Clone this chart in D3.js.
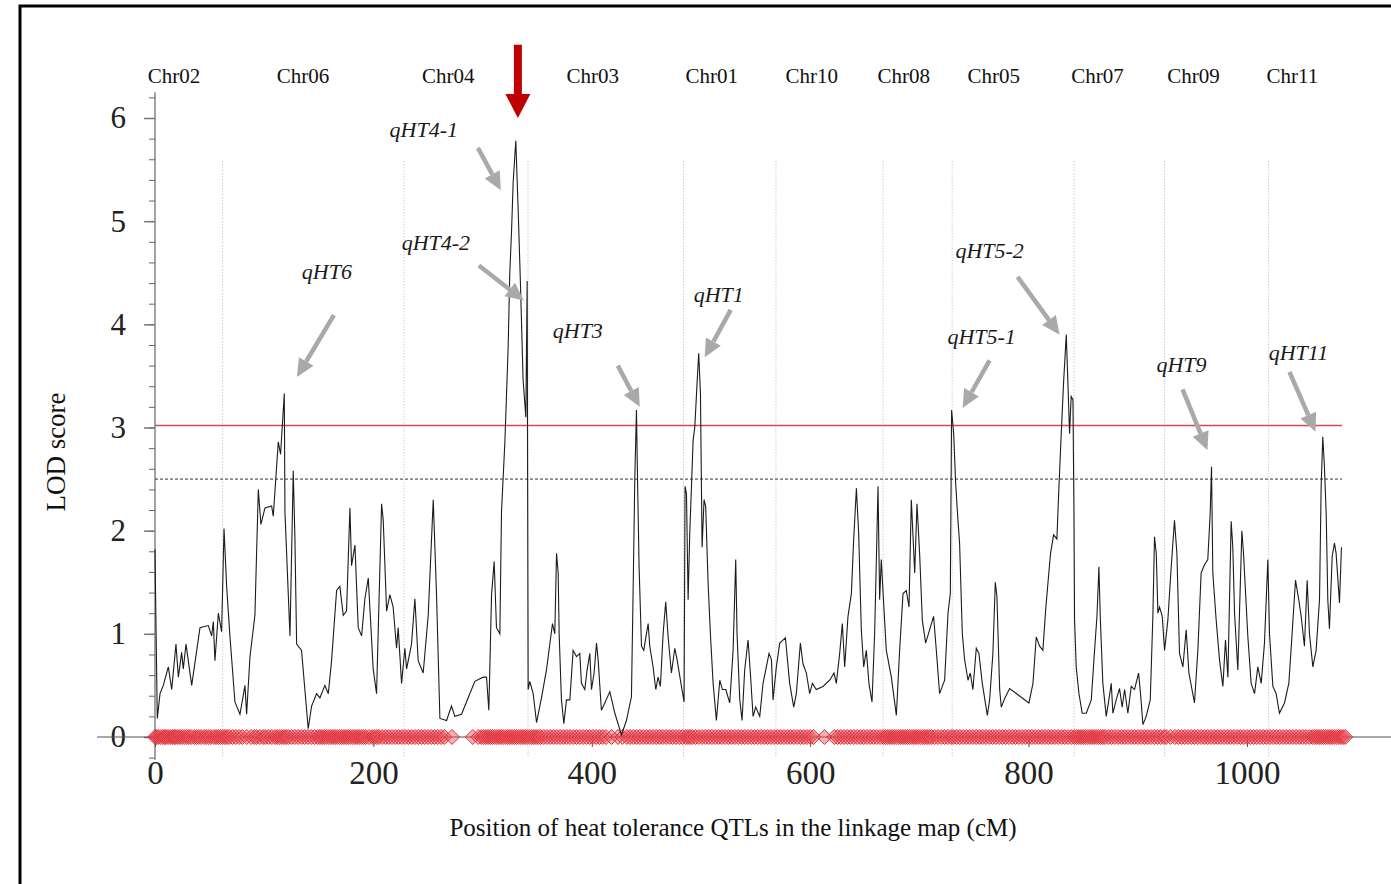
<!DOCTYPE html>
<html>
<head>
<meta charset="utf-8">
<script src="https://cdn.jsdelivr.net/npm/d3@7"></script>
<style>
  body { margin: 0; background: #fff; }
  svg { display: block; font-family: "Liberation Serif", "Times New Roman", serif; }
</style>
</head>
<body>
<div class="chart"></div>
<script>
// LOD profile along the concatenated linkage map (cM, LOD)
var positions = [0,0.5,2.1,4.6,7.6,12.2,15.3,19.2,21.4,24.4,25.9,28.4,33.6,41.2,48.8,51.9,53.4,54.9,58,61,63.2,65.6,68.6,73.2,77.8,82.4,83.9,87,91.5,94.6,97,100.7,106.8,108.3,112.9,115,118.4,119,123.6,126.6,128.1,129.7,134.2,140.3,143.4,148,151,155.6,158.7,161.7,166.3,169.3,172.4,175.4,178.5,180,183.1,186.1,189.2,192.2,195.3,199.8,202.9,207.5,209,212.1,215.1,218.1,221.2,222.7,225.8,228.8,230.4,234.9,238,241,245.6,250.2,254.8,257.8,260.9,267,271.5,274.6,280.7,286.8,292.9,300.5,303.6,305.7,308.2,310.6,312.7,315.8,317.3,320.4,323.4,324.9,326.5,328,330.4,332.6,334.7,337.1,339.6,340.8,341.7,343.2,346.3,349.4,353.9,
  358.5,364,366.1,367.7,369.2,370.1,372.2,374.4,376.8,379.9,382.9,386,389,390.5,393.6,395.7,398.2,399.7,402.1,404.3,405.8,408.8,411.9,416.5,421.1,427.2,431.7,436.3,437.8,439.4,440.9,441.8,443.3,445.5,447.6,450,451.6,453.1,456.1,458.6,460.7,462.8,465.3,467.7,469.9,472.9,476,478.1,482.1,484.5,485.4,486.7,488.2,489.7,492.8,494.3,496.4,497.9,499.5,501,502.8,504.3,506.5,508.6,511.1,514.1,517.2,519.6,522.7,526.3,529.4,531.8,533,535.5,537.6,540,543.1,545.2,547.7,550.1,553.8,556.8,559.3,562.3,564.5,566,569,572.1,577.3,581.2,584.9,587.3,591,593.4,596.5,599.5,602,605.6,611.7,617.8,621.8,623.9,627,629.4,631.6,634.6,637.7,639.8,642.3,644.4,646.8,649,651.4,653.8,656.6,659,660.6,662.1,663.6,665.1,667.3,669.7,674.3,678.9,681.9,685,688,690.5,692.6,695.7,697.8,700.2,702.7,705.7,709.4,713,715.5,
  718.5,723.1,726.2,728.3,729.5,731.4,733.2,735.3,736.8,739.3,741.4,744.5,746.6,749,752.1,754.5,757.6,762.2,764.3,767.3,769.5,771,773.5,775,778,782.6,790.2,800.3,804,807,810.1,813.1,815.6,817.7,820.1,822.9,825.9,827.8,829.9,832,834.5,836,837.5,839,840.6,841.5,842.1,843.6,846.1,849.1,852.8,857.4,860.4,862.6,864.4,865.6,868,871.1,873.5,875.7,877.2,880.2,883.3,885.7,887.9,890.9,894,897,900.7,902.5,904.7,907.7,911.4,913.8,915.3,916.9,918.4,919.9,922.4,924.5,927.5,930.6,933.6,935.8,938.2,941.3,944.3,946.8,951.9,955,958,961.1,964.1,966.3,967.5,968.7,971.8,974.8,977.9,980.3,982.5,985.5,987,988.6,991.6,995.3,996.8,1000.8,1003.8,1006.9,1009.9,1013,1016,1019.1,1020.6,1023.7,1026.7,1029.7,1034.3,1038.3,1041.3,1044.4,1047.4,1049.6,1052.6,1055.1,1057.2,1060.3,1063.3,1066.4,1067.9,1069.4,1070.9,1072.5,1074,1075.5,1078,1080.1,1081.6,1083.1,1084.7,1086.5];
var lods = [1.82,1.4,0.18,0.42,0.5,0.68,0.46,0.9,0.58,0.82,0.66,0.9,0.5,1.06,1.08,0.98,1.12,0.74,1.2,1.02,2.02,1.46,0.98,0.34,0.22,0.5,0.22,0.78,1.18,2.4,2.06,2.22,2.24,2.14,2.86,2.74,3.33,2.18,0.98,2.58,1.94,0.9,0.84,0.08,0.3,0.42,0.38,0.5,0.42,0.74,1.42,1.46,1.18,1.22,2.22,1.66,1.86,1.06,0.98,1.34,1.54,0.66,0.42,2.26,2.1,1.22,1.38,1.26,0.86,1.06,0.52,0.86,0.66,0.9,1.34,0.74,0.62,1.18,2.3,1.38,0.18,0.16,0.3,0.2,0.22,0.38,0.54,0.58,0.58,0.26,1.38,1.7,1.06,1,2.18,2.86,3.78,4.5,4.9,5.38,5.78,5.1,4.38,3.46,3.1,4.42,0.46,0.54,0.42,0.14,0.38,
  0.65,1.1,1,1.78,1.59,1,0.36,0.13,0.36,0.36,0.84,0.78,0.81,0.52,0.46,0.65,0.81,0.46,0.62,0.91,0.75,0.26,0.33,0.44,0.23,0.02,0.16,0.39,1.39,2.52,3.17,2.55,1.65,0.88,0.84,1,1.1,0.88,0.68,0.46,0.58,0.49,1,1.31,0.97,0.62,0.86,0.75,0.49,0.34,2.43,2.36,1.33,1.97,2.88,3,3.43,3.72,3.33,1.84,2.3,2.23,1.49,1,0.52,0.16,0.55,0.46,0.46,0.33,0.84,1.72,1,0.36,0.16,0.65,0.94,0.62,0.2,0.29,0.2,0.52,0.65,0.81,0.75,0.36,0.68,0.91,0.96,0.52,0.29,0.42,0.91,0.71,0.62,0.42,0.52,0.46,0.49,0.55,0.62,0.52,0.81,1.1,0.68,1.17,1.39,1.91,2.41,1.97,1.04,0.68,0.84,0.52,0.34,1,1.72,2.43,1.33,1.72,1.29,0.84,0.58,0.21,0.84,1.39,1.42,1.26,2.3,1.59,2.26,1.78,1.13,0.91,1.04,1.17,0.84,
  0.42,0.55,1.2,1.39,3.17,2.94,2.46,2.1,1.88,1,0.75,0.55,0.62,0.46,0.86,0.81,0.52,0.21,0.36,0.81,1.5,1.36,0.46,0.29,0.37,0.47,0.41,0.33,0.52,0.97,0.88,0.84,1.23,1.49,1.78,1.96,1.92,2.43,2.94,3.43,3.9,3.43,2.94,3.3,3.27,2.23,1.13,0.68,0.42,0.23,0.23,0.36,0.84,1.17,1.65,1.17,0.52,0.2,0.36,0.52,0.23,0.36,0.47,0.29,0.46,0.23,0.49,0.46,0.62,0.42,0.12,0.2,0.36,1.17,1.94,1.78,1.2,1.26,1.17,0.84,1.13,1.65,2.1,1.78,0.81,0.68,1.04,0.62,0.33,0.84,1.59,1.67,1.72,2.17,2.62,1.59,1.13,0.75,0.49,0.94,0.58,2.09,1.84,1.2,0.65,2,1.78,0.97,0.52,0.42,0.68,0.52,0.91,1.72,1,0.49,0.42,0.23,0.33,0.52,1,1.52,1.33,1.17,0.88,1.52,1,0.68,0.84,1.33,2.43,2.91,2.62,2.17,1.33,1.05,1.75,1.88,1.78,1.55,1.3,1.84];

// marker positions (cM) shown as diamonds on the x axis
var markers = [0,1.5,3,5,7,8.5,10,12,14,16,17.5,19,21,23,25,27,29,31,33,36,38,40,42,45,47,49,51,54,56,58,60,62,
  64,66,68,71,74,77,80,84,88,91,93,96,99,101,104,107,110,112,114,116,118,120,122,125,128,131,134,137,140,143,146,149,151,153,155,157,159,161,163,165,167,169,171,173,175,177,179,181,183,185,187,189,191,193,196,199,201,203,205,208,211,214,217,220,223,226,
  229,232,235,238,241,244,247,250,253,256,259,262,265,272,291,296,299,301,303,305,307,309,311,313,315,317,319,321,323,325,327,329,331,333,335,337,339,341,
  343,345,347,349,351,353,356,359,362,365,368,371,374,377,380,383,386,389,392,395,398,401,404,407,410,413,418,424,428,432,435,438,441,444,447,450,453,456,459,462,465,468,471,474,477,480,483,
  486,488,490,492,495,498,501,504,507,510,513,516,519,522,525,528,531,534,537,540,543,546,549,552,555,558,561,564,567,
  570,573,576,579,582,585,588,591,594,597,600,603,613,622,625,628,631,634,637,640,643,646,649,652,655,658,661,664,
  667,669,671,673,675,677,679,681,683,685,687,689,691,693,695,697,699,701,703,705,707,709,711,714,717,720,723,726,729,
  731,734,737,740,743,746,749,752,755,758,761,764,767,770,773,776,779,782,785,788,791,794,797,800,803,806,809,812,815,818,821,824,827,830,833,836,839,
  842,844,846,848,850,852,854,856,858,860,862,864,866,868,870,873,876,879,882,885,888,891,894,897,900,903,906,909,912,915,918,921,924,
  926,930,934,937,940,943,946,949,952,955,958,961,964,967,970,973,976,979,982,985,988,991,994,997,1000,1003,1006,1009,1012,1015,1018,
  1021,1024,1027,1030,1033,1036,1039,1042,1045,1048,1051,1054,1057,1060,1062,1064,1066,1068,1070,1072,1074,1076,1078,1080,1082,1084,1086,1088,1090];

var chrNames = ["Chr02","Chr06","Chr04","Chr03","Chr01","Chr10","Chr08","Chr05","Chr07","Chr09","Chr11"];
var chrCenters = [17.4,135.5,268.6,400.9,509.8,601.4,685.6,768,863.2,951,1041.6];
var chrBounds = [62,228,341.6,484,568.6,666.7,730,841.6,924.5,1019.8];

var xTicks = [0,200,400,600,800,1000];
var yTicks = [0,1,2,3,4,5,6];
var lodThreshold = 3.02;
var lodSuggestive = 2.5;

// QTL annotations: label position, arrow tail and tip, all in (cM, LOD)
var qtlNames = ["qHT4-1","qHT4-2","qHT6","qHT3","qHT1","qHT5-2","qHT5-1","qHT9","qHT11"];
var qtlLabel = [[246.2,5.82],[257.2,4.72],[157.4,4.44],[387.2,3.87],[516.2,4.22],[764.3,4.64],[757,3.81],[940,3.54],[1047.1,3.65]];
var qtlTail = [[295.7,5.71],[296.6,4.57],[163.8,4.09],[423.8,3.6],[527.2,4.14],[789.9,4.46],[764.3,3.65],[941,3.37],[1038.9,3.54]];
var qtlTip = [[316.7,5.3],[337.8,4.23],[130,3.49],[443.9,3.2],[503.4,3.68],[828.4,3.9],[739.6,3.19],[963.8,2.78],[1062.7,2.96]];
var majorQtl = [332.3, 6.71, 6.0]; // red arrow: position, top, tip

var width = 1391, height = 884;
var svg = d3.select(".chart").append("svg").attr("width", width).attr("height", height);

var x = d3.scaleLinear().domain([0, 1000]).range([155, 1247]);
var y = d3.scaleLinear().domain([0, 6]).range([737, 118]);

// frame
svg.append("rect").attr("x", 20).attr("y", 6).attr("width", 1420).attr("height", 1000)
  .attr("fill", "none").attr("stroke", "#000").attr("stroke-width", 3);

// chromosome boundaries
svg.selectAll(".bound").data(chrBounds).enter().append("line")
  .attr("x1", d => x(d)).attr("x2", d => x(d))
  .attr("y1", y(5.58)).attr("y2", y(-0.19))
  .attr("stroke", "#b5b5b5").attr("stroke-width", 1).attr("stroke-dasharray", "1,2");

// chromosome names
svg.selectAll(".chr").data(chrNames).enter().append("text")
  .attr("x", (d, i) => x(chrCenters[i])).attr("y", 83)
  .attr("text-anchor", "middle").attr("font-size", "21px").attr("fill", "#111")
  .text(d => d);

// y axis with minor ticks
var yAxisG = svg.append("g").attr("transform", "translate(155,0)");
yAxisG.append("line").attr("x1", 0).attr("x2", 0).attr("y1", y(6.25)).attr("y2", y(-0.22))
  .attr("stroke", "#666").attr("stroke-width", 1.2);
yAxisG.call(d3.axisLeft(y).tickValues(d3.range(-0.2, 6.21, 0.2)).tickSize(6).tickFormat(""))
  .call(g => g.select(".domain").remove())
  .call(g => g.selectAll("line").attr("stroke", "#666"));
yAxisG.append("g").call(d3.axisLeft(y).tickValues(yTicks).tickSize(11).tickFormat(d3.format("d")).tickPadding(18))
  .call(g => g.select(".domain").remove())
  .call(g => g.selectAll("line").attr("stroke", "#777").attr("stroke-width", 1.5))
  .call(g => g.selectAll("text").attr("font-family", "Liberation Serif, serif").attr("font-size", "31px").attr("fill", "#222"));

// x axis
var xAxisG = svg.append("g").attr("transform", "translate(0,737)");
xAxisG.append("line").attr("x1", 97).attr("x2", 1391).attr("y1", 0).attr("y2", 0)
  .attr("stroke", "#777").attr("stroke-width", 1.2);
xAxisG.call(d3.axisBottom(x).tickValues(xTicks).tickSize(10).tickPadding(14).tickFormat(d3.format("d")))
  .call(g => g.select(".domain").remove())
  .call(g => g.selectAll("line").attr("stroke", "#555"))
  .call(g => g.selectAll("text").attr("font-family", "Liberation Serif, serif").attr("font-size", "33px").attr("fill", "#222"));

// axis titles
svg.append("text").attr("x", 733).attr("y", 836).attr("text-anchor", "middle")
  .attr("font-size", "25px").attr("fill", "#111")
  .text("Position of heat tolerance QTLs in the linkage map (cM)");
svg.append("text").attr("transform", "translate(65,452) rotate(-90)").attr("text-anchor", "middle")
  .attr("font-size", "27px").attr("fill", "#111").text("LOD score");

// threshold lines
svg.append("line").attr("x1", x(0)).attr("x2", x(1087)).attr("y1", y(lodSuggestive)).attr("y2", y(lodSuggestive))
  .attr("stroke", "#333").attr("stroke-width", 1).attr("stroke-dasharray", "3,2");
svg.append("line").attr("x1", x(0)).attr("x2", x(1087)).attr("y1", y(lodThreshold)).attr("y2", y(lodThreshold))
  .attr("stroke", "#d9484e").attr("stroke-width", 1.5);

// markers
var diamond = "M0,-7.5L7.5,0L0,7.5L-7.5,0Z";
svg.append("g").selectAll("path").data(markers).enter().append("path")
  .attr("d", diamond).attr("transform", d => "translate(" + x(d) + "," + y(0) + ")")
  .attr("fill", "rgba(232,80,88,0.45)").attr("stroke", "#e0303c").attr("stroke-width", 1);

// LOD curve
var curve = positions.map((p, i) => [p, lods[i]]);
svg.append("path").datum(curve)
  .attr("d", d3.line().x(d => x(d[0])).y(d => y(d[1])))
  .attr("fill", "none").attr("stroke", "#1c1c1c").attr("stroke-width", 1.1);

// QTL labels and grey arrows
function arrow(g, x1, y1, x2, y2, color, shaft, headLen, headW) {
  var ang = Math.atan2(y2 - y1, x2 - x1);
  var bx = x2 - headLen * Math.cos(ang), by = y2 - headLen * Math.sin(ang);
  g.append("line").attr("x1", x1).attr("y1", y1).attr("x2", bx).attr("y2", by)
    .attr("stroke", color).attr("stroke-width", shaft);
  var px = -Math.sin(ang) * headW / 2, py = Math.cos(ang) * headW / 2;
  g.append("path").attr("d", "M" + x2 + "," + y2 + "L" + (bx + px) + "," + (by + py) + "L" + (bx - px) + "," + (by - py) + "Z")
    .attr("fill", color);
}
var ann = svg.append("g");
qtlNames.forEach(function(name, i) {
  ann.append("text").attr("x", x(qtlLabel[i][0])).attr("y", y(qtlLabel[i][1]))
    .attr("text-anchor", "middle").attr("font-size", "22px").attr("font-style", "italic").attr("fill", "#1a1a1a")
    .text(name);
  arrow(ann, x(qtlTail[i][0]), y(qtlTail[i][1]), x(qtlTip[i][0]), y(qtlTip[i][1]), "#a9a9a9", 4.5, 18, 17);
});

// major QTL arrow
arrow(ann, x(majorQtl[0]), y(majorQtl[1]), x(majorQtl[0]), y(majorQtl[2]), "#c00000", 8, 24, 25);
</script>
</body>
</html>
